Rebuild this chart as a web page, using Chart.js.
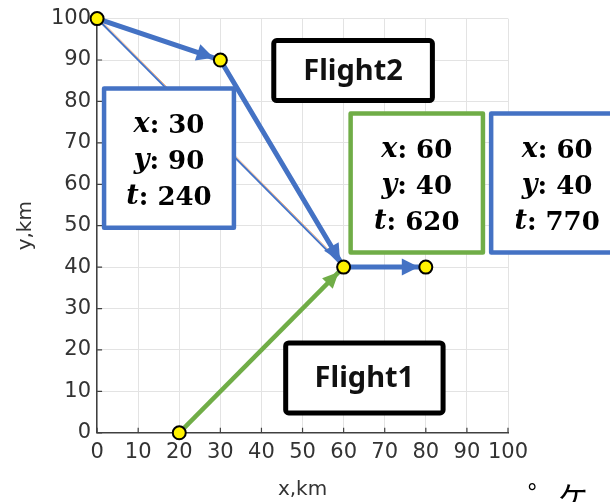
<!doctype html>
<html lang="en">

<head>
    <meta charset="utf-8">
    <title>Flight paths</title>
    <script src="https://cdn.jsdelivr.net/npm/chart.js@4.4.0/dist/chart.umd.min.js"></script>
    <style>
        html, body { margin: 0; padding: 0; background: #fff; }
        #wrap { width: 610px; height: 502px; position: relative; }
    </style>
</head>

<body>
    <div id="wrap">
        <canvas id="myChart" width="610" height="502"></canvas>
    </div>
</body>
<script>
    // waypoints
    const pointX = [0, 30, 60, 80, 20];
    const pointY = [100, 90, 40, 40, 0];

    // flight 2 path (thick blue) and direct line (thin blue)
    const flight2X = [0, 30, 60, 80];
    const flight2Y = [100, 90, 40, 40];
    const directX = [0, 60];
    const directY = [100, 40];

    // flight 1 path (green)
    const flight1X = [20, 60];
    const flight1Y = [0, 40];

    const tickValues = [0, 10, 20, 30, 40, 50, 60, 70, 80, 90, 100];

    // info boxes text
    const box1Vals = ["30", "90", "240"];
    const box2Vals = ["60", "40", "620"];
    const box3Vals = ["60", "40", "770"];
    const varNames = ["x", "y", "t"];

    const BLUE = '#4472C4';
    const GREEN = '#70AD47';

    let toXY = (xs, ys) => xs.map((x, i) => ({ x: x, y: ys[i] }));

    // boxes in data coords: x0, x1, yTop, yBottom
    const infoBoxes = [
        { x0: 1.7, x1: 33.3, y0: 83.1, y1: 49.5, color: BLUE, vals: box1Vals },
        { x0: 61.7, x1: 93.9, y0: 77.1, y1: 43.5, color: GREEN, vals: box2Vals },
        { x0: 95.9, x1: 128, y0: 77.1, y1: 43.5, color: BLUE, vals: box3Vals }
    ];
    const labelBoxes = [
        { x0: 43.0, x1: 81.6, y0: 94.7, y1: 80.2, text: "Flight2" },
        { x0: 45.9, x1: 84.2, y0: 21.7, y1: 4.8, text: "Flight1" }
    ];

    let drawArrowHead = (ctx, x1, y1, x2, y2, color, len, half, back) => {
        let a = Math.atan2(y2 - y1, x2 - x1);
        let tx = x2 - Math.cos(a) * back;
        let ty = y2 - Math.sin(a) * back;
        ctx.save();
        ctx.fillStyle = color;
        ctx.beginPath();
        ctx.moveTo(tx, ty);
        ctx.lineTo(tx - Math.cos(a) * len - Math.sin(a) * half, ty - Math.sin(a) * len + Math.cos(a) * half);
        ctx.lineTo(tx - Math.cos(a) * len + Math.sin(a) * half, ty - Math.sin(a) * len - Math.cos(a) * half);
        ctx.closePath();
        ctx.fill();
        ctx.restore();
    }

    let extras = {
        id: 'extras',
        beforeDatasetsDraw(chart) {
            let ctx = chart.ctx;
            let sx = chart.scales.x, sy = chart.scales.y;
            // inside tick marks
            ctx.save();
            ctx.strokeStyle = '#404040';
            ctx.lineWidth = 1.2;
            tickValues.forEach(v => {
                let px = sx.getPixelForValue(v);
                let py = sy.getPixelForValue(v);
                ctx.beginPath();
                ctx.moveTo(px, sy.bottom);
                ctx.lineTo(px, sy.bottom - 5);
                ctx.moveTo(sx.left, py);
                ctx.lineTo(sx.left + 5, py);
                ctx.stroke();
            });
            ctx.restore();
            // thin orange line under the direct path
            ctx.save();
            ctx.strokeStyle = '#F4B183';
            ctx.lineWidth = 1;
            ctx.beginPath();
            ctx.moveTo(sx.getPixelForValue(directX[0]) + 2, sy.getPixelForValue(directY[0]));
            ctx.lineTo(sx.getPixelForValue(directX[1]) + 2, sy.getPixelForValue(directY[1]));
            ctx.stroke();
            ctx.restore();
            // arrow heads
            for (let i = 1; i < flight2X.length; i++) {
                drawArrowHead(ctx,
                    sx.getPixelForValue(flight2X[i - 1]), sy.getPixelForValue(flight2Y[i - 1]),
                    sx.getPixelForValue(flight2X[i]), sy.getPixelForValue(flight2Y[i]),
                    BLUE, 17, 8.5, 7);
            }
            drawArrowHead(ctx,
                sx.getPixelForValue(flight1X[0]), sy.getPixelForValue(flight1Y[0]),
                sx.getPixelForValue(flight1X[1]), sy.getPixelForValue(flight1Y[1]),
                GREEN, 16, 7.5, 7);
        },
        afterDraw(chart) {
            let ctx = chart.ctx;
            let sx = chart.scales.x, sy = chart.scales.y;
            ctx.save();
            infoBoxes.forEach(b => {
                let l = sx.getPixelForValue(b.x0), r = sx.getPixelForValue(b.x1);
                let t = sy.getPixelForValue(b.y0), btm = sy.getPixelForValue(b.y1);
                ctx.fillStyle = '#fff';
                ctx.fillRect(l, t, r - l, btm - t);
                ctx.strokeStyle = b.color;
                ctx.lineWidth = 4.5;
                ctx.lineJoin = 'round';
                ctx.strokeRect(l, t, r - l, btm - t);
                let cx = (l + r) / 2, cy = (t + btm) / 2 + 3;
                ctx.fillStyle = '#000';
                ctx.textBaseline = 'middle';
                b.vals.forEach((v, i) => {
                    let fv = 'italic bold 27px "DejaVu Serif"';
                    let fn = 'bold 26px "DejaVu Serif"';
                    ctx.font = fv;
                    let w1 = ctx.measureText(varNames[i]).width;
                    ctx.font = fn;
                    let rest = ": " + v;
                    let w2 = ctx.measureText(rest).width;
                    let x = cx - (w1 + w2) / 2;
                    let y = cy + (i - 1) * 36;
                    ctx.font = fv;
                    ctx.textAlign = 'left';
                    ctx.fillText(varNames[i], x, y);
                    ctx.font = fn;
                    ctx.fillText(rest, x + w1, y + 1);
                });
            });
            labelBoxes.forEach(b => {
                let l = sx.getPixelForValue(b.x0), r = sx.getPixelForValue(b.x1);
                let t = sy.getPixelForValue(b.y0), btm = sy.getPixelForValue(b.y1);
                ctx.fillStyle = '#fff';
                ctx.beginPath();
                ctx.roundRect(l, t, r - l, btm - t, 3);
                ctx.fill();
                ctx.strokeStyle = '#000';
                ctx.lineWidth = 5;
                ctx.stroke();
                ctx.fillStyle = '#111';
                ctx.font = 'bold 29px "Noto Sans"';
                ctx.textAlign = 'center';
                ctx.textBaseline = 'middle';
                ctx.fillText(b.text, (l + r) / 2, (t + btm) / 2 + 1);
            });
            // cut off text at the bottom right corner
            ctx.fillStyle = '#000';
            ctx.font = '30px "Noto Sans CJK JP"';
            ctx.textAlign = 'left';
            ctx.textBaseline = 'top';
            ctx.fillText("゜ケ", 528, 482);
            ctx.restore();
        }
    }

    let chart1 = document.getElementById("myChart");
    let ChartFlights = new Chart(chart1, {
        type: 'scatter',
        data: {
            datasets: [{
                label: "points",
                data: toXY(pointX, pointY),
                pointRadius: 6.5,
                pointBackgroundColor: '#FFF200',
                pointBorderColor: '#000',
                pointBorderWidth: 2,
                showLine: false,
                clip: false
            }, {
                label: "Flight2",
                data: toXY(flight2X, flight2Y),
                showLine: true,
                borderColor: BLUE,
                borderWidth: 5,
                pointRadius: 0,
                clip: false
            }, {
                label: "Flight1",
                data: toXY(flight1X, flight1Y),
                showLine: true,
                borderColor: GREEN,
                borderWidth: 4.5,
                pointRadius: 0,
                clip: false
            }, {
                label: "direct",
                data: toXY(directX, directY),
                showLine: true,
                borderColor: BLUE,
                borderWidth: 2,
                pointRadius: 0,
                clip: false
            }]
        },
        options: {
            responsive: false,
            animation: false,
            layout: { padding: { left: 14, right: 102, top: 6, bottom: 0 } },
            plugins: {
                legend: { display: false },
                tooltip: { enabled: false }
            },
            scales: {
                x: {
                    type: 'linear',
                    min: 0,
                    max: 100,
                    ticks: {
                        stepSize: 10,
                        autoSkip: false,
                        color: '#333',
                        font: { family: 'DejaVu Sans', size: 21 },
                        padding: 7,
                        maxRotation: 0
                    },
                    grid: { color: '#e3e3e3', tickLength: 0 },
                    border: { color: '#404040', width: 1.5 },
                    title: {
                        display: true,
                        text: 'x,km',
                        color: '#333',
                        font: { family: 'DejaVu Sans', size: 20 },
                        padding: { top: 6, bottom: 0 }
                    }
                },
                y: {
                    type: 'linear',
                    min: 0,
                    max: 100,
                    ticks: {
                        stepSize: 10,
                        autoSkip: false,
                        color: '#333',
                        font: { family: 'DejaVu Sans', size: 21 },
                        padding: 6
                    },
                    grid: { color: '#e3e3e3', tickLength: 0 },
                    border: { color: '#404040', width: 1.5 },
                    title: {
                        display: true,
                        text: 'y,km',
                        color: '#333',
                        font: { family: 'DejaVu Sans', size: 20 },
                        padding: { top: 0, bottom: 7 }
                    }
                }
            }
        },
        plugins: [extras]
    });
</script>

</html>
